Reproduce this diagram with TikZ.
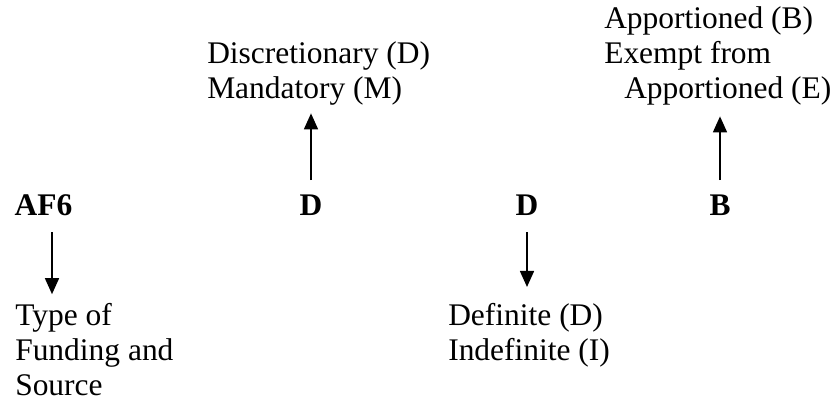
\documentclass[tikz,border=0pt]{standalone}
\usepackage{fontspec}
\setmainfont{Liberation Serif}
\usetikzlibrary{arrows.meta, positioning}

\begin{document}
\begin{tikzpicture}[
    x=0.75pt, y=-0.75pt,
    font=\fontsize{23.6}{26.25}\selectfont,
    lbl/.style={inner sep=0pt, anchor=north west, align=left, execute at begin node=\strut},
    code/.style={inner sep=0pt, anchor=base, font=\fontsize{23.6}{26.25}\selectfont\bfseries},
    arrow/.style={-{Triangle[length=12pt, width=10.5pt]}, line width=1.2pt}
  ]
    \useasboundingbox (0,0) rectangle (835,405);

    \node[code] (af6) at (43.5,215) {AF6};
    \node[code] (dsc) at (311,215) {D};
    \node[code] (dfn) at (527,215) {D};
    \node[code] (apr) at (720,215) {B};

    \node[lbl] (type) at (15,303.5) {Type of\\Funding and\\Source};
    \node[lbl] (discr) at (207,41.5) {Discretionary (D)\\Mandatory (M)};
    \node[lbl] (defin) at (448,303.5) {Definite (D)\\Indefinite (I)};
    \node[lbl] (apport) at (604,6.5) {Apportioned (B)\\Exempt from\\\hspace*{15pt}Apportioned (E)};

    \draw[arrow, shorten <=12.75pt, shorten >=7pt] ([xshift=6.4pt]af6.base) -- ([xshift=27.75pt]type.north west);
    \draw[arrow, shorten <=10.5pt, shorten >=3pt] (dsc.north) -- (dsc.north |- discr.south);
    \draw[arrow, shorten <=12.75pt, shorten >=12.4pt] (dfn.south) -- (dfn.south |- defin.north);
    \draw[arrow, shorten <=10.5pt, shorten >=5.25pt] (apr.north) -- (apr.north |- apport.south);
  \end{tikzpicture}
\end{document}
